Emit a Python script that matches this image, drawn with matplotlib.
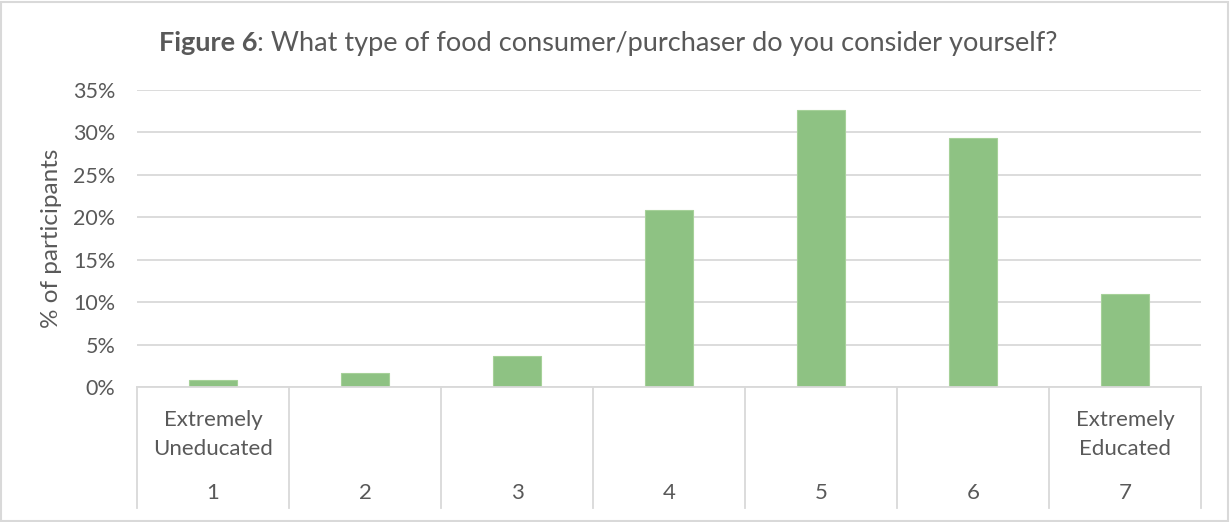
import matplotlib.pyplot as plt
from matplotlib.patches import Rectangle
from matplotlib.ticker import FuncFormatter
import numpy as np

plt.rcParams['font.family'] = ['Lato', 'DejaVu Sans']

# survey answers on a 1-7 scale, share of participants in %
levels = ['1', '2', '3', '4', '5', '6', '7']
anchors = ['Extremely\nUneducated', '', '', '', '', '', 'Extremely\nEducated']
share = [0.8, 1.7, 3.7, 20.8, 32.7, 29.3, 11.0]

title_bold = 'Figure 6'
title_rest = ': What type of food consumer/purchaser do you consider yourself?'
y_label = '% of participants'

text_color = '#595959'
grid_color = '#D9D9D9'
bar_color = '#8EC283'

fig = plt.figure(figsize=(12.3, 5.22), dpi=100)
ax = fig.add_axes([137 / 1230, 1 - 387 / 522, (1201 - 137) / 1230, 297 / 522])

x = np.arange(len(levels))
ax.bar(x, share, width=0.315, color=bar_color, edgecolor='#A6D199', linewidth=0.8, zorder=3)

ax.set_xlim(-0.5, len(levels) - 0.5)
ax.set_ylim(0, 35)
ax.set_yticks(np.arange(0, 36, 5))
ax.yaxis.set_major_formatter(FuncFormatter(lambda v, p: f'{v:.0f}%'))
ax.tick_params(axis='y', length=0, labelsize=15.5, labelcolor=text_color, pad=15.5)
ax.set_xticks([])
ax.grid(True, axis='y', color=grid_color, linewidth=1.3, zorder=0)

for side in ['top', 'right', 'left']:
    ax.spines[side].set_visible(False)
ax.spines['bottom'].set_color(grid_color)
ax.spines['bottom'].set_linewidth(1.3)
ax.spines['bottom'].set_zorder(4)

fig.text(52 / 1230, 1 - 238 / 522, y_label, rotation=90, ha='center', va='center',
         fontsize=17.5, color=text_color)

# two-level category axis: separators, scale labels and anchor texts
trans = ax.get_xaxis_transform()
for b in np.arange(-0.5, len(levels), 1.0):
    ax.plot([b, b], [0, -0.407], transform=trans, color=grid_color,
            linewidth=1.3, clip_on=False)
for i, (lvl, anc) in enumerate(zip(levels, anchors)):
    ax.text(i, -0.357, lvl, transform=trans, ha='center', va='center',
            fontsize=16, color=text_color)
    if anc:
        ax.text(i, -0.16, anc, transform=trans, ha='center', va='center',
                fontsize=16, color=text_color, linespacing=1.55)

# title: bold figure number followed by the question
ty = 1 - 43 / 522
t1 = fig.text(0, ty, title_bold, fontsize=19.5, fontweight='bold',
              color=text_color, va='center')
t2 = fig.text(0, ty, title_rest, fontsize=19.5, color=text_color, va='center')
fig.canvas.draw()
r = fig.canvas.get_renderer()
w1 = t1.get_window_extent(r).width
w2 = t2.get_window_extent(r).width
x0 = 608 - (w1 + w2) / 2
t1.set_x(x0 / 1230)
t2.set_x((x0 + w1) / 1230)

fig.patches.append(Rectangle((0.001, 0.002), 0.997, 0.995, transform=fig.transFigure,
                             fill=False, edgecolor=grid_color, linewidth=1.5))

fig.savefig('out.png', dpi=100)
